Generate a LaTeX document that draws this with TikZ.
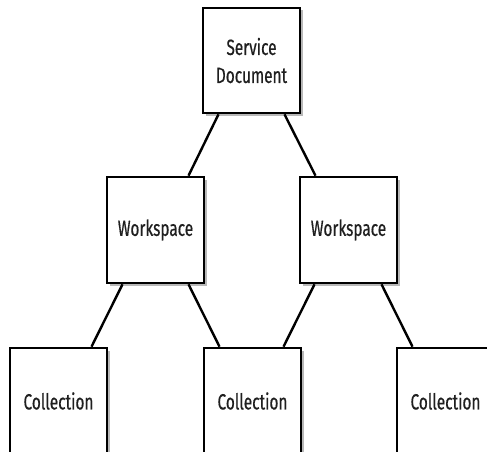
\documentclass[tikz,border=0pt]{standalone}
\usepackage{fontspec}
\setmainfont{Fira Sans}[FakeStretch=0.7, FakeBold=0.5]
\usetikzlibrary{shadows}
\begin{document}
\begin{tikzpicture}[x=1pt,y=-1pt,
  box/.style={draw=black, line width=2.6pt, fill=white, minimum width=97pt, minimum height=106pt,
    inner sep=0pt, align=center, font=\fontsize{22}{28}\selectfont, text=black!88,
    drop shadow={shadow xshift=2.5pt, shadow yshift=-2.5pt, opacity=0.28, fill=black}},
  link/.style={draw=black, line width=2.4pt}]
\useasboundingbox (0,0) rectangle (487,452);
\node[box, minimum height=105pt] (top) at (251.5,60.5) {Service\\Document};
\node[box] (wsL) at (155.5,230) {Workspace};
\node[box] (wsR) at (348.5,230) {Workspace};
\node[box] (cA) at (58.5,401) {Collection};
\node[box] (cB) at (252.5,401) {Collection};
\node[box] (cC) at (445.5,401) {Collection};
\draw[link] ([xshift=-33pt]top.south) -- ([xshift=33pt]wsL.north);
\draw[link] ([xshift=33pt]top.south) -- ([xshift=-33pt]wsR.north);
\draw[link] ([xshift=-33pt]wsL.south) -- ([xshift=33pt]cA.north);
\draw[link] ([xshift=33pt]wsL.south) -- ([xshift=-33pt]cB.north);
\draw[link] ([xshift=-34pt]wsR.south) -- ([xshift=31pt]cB.north);
\draw[link] ([xshift=33pt]wsR.south) -- ([xshift=-33pt]cC.north);
\end{tikzpicture}
\end{document}
